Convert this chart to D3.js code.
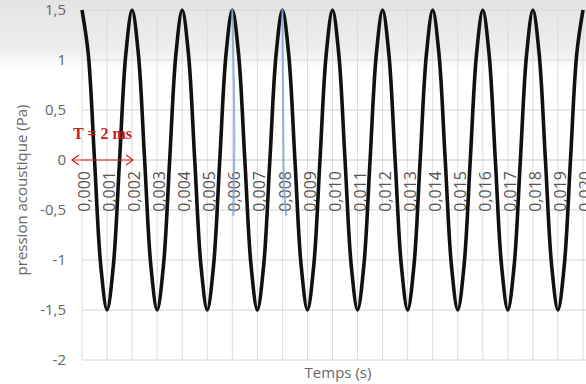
<!DOCTYPE html>
<html><head><meta charset="utf-8">
<script src="https://cdn.jsdelivr.net/npm/d3@7/dist/d3.min.js"></script>
<style>body{margin:0;background:#fff;}svg{display:block;}</style>
</head><body>
<svg id="c" width="586" height="384"></svg>
<script>
const times = d3.range(81).map(i => +(i * 0.00025).toFixed(5));
const pressure = [
 1.5, 1.06, 0, -1.06, -1.5, -1.06, 0, 1.06,
 1.5, 1.06, 0, -1.06, -1.5, -1.06, 0, 1.06,
 1.5, 1.06, 0, -1.06, -1.5, -1.06, 0, 1.06,
 1.5, 1.06, 0, -1.06, -1.5, -1.06, 0, 1.06,
 1.5, 1.06, 0, -1.06, -1.5, -1.06, 0, 1.06,
 1.5, 1.06, 0, -1.06, -1.5, -1.06, 0, 1.06,
 1.5, 1.06, 0, -1.06, -1.5, -1.06, 0, 1.06,
 1.5, 1.06, 0, -1.06, -1.5, -1.06, 0, 1.06,
 1.5, 1.06, 0, -1.06, -1.5, -1.06, 0, 1.06,
 1.5, 1.06, 0, -1.06, -1.5, -1.06, 0, 1.06,
 1.5
];
const xTicks = [0,0.001,0.002,0.003,0.004,0.005,0.006,0.007,0.008,0.009,0.010,
                0.011,0.012,0.013,0.014,0.015,0.016,0.017,0.018,0.019,0.020];
const yTicks = [-2,-1.5,-1,-0.5,0,0.5,1,1.5];
// hand-drawn blue marks
const blue1T = [0.006, 0.00604, 0.00608, 0.00608, 0.00604];
const blue1P = [1.5, 1.0, 0.6, -0.07, -0.55];
const blue2T = [0.008, 0.00803, 0.00804, 0.00806, 0.00815];
const blue2P = [1.5, 0.6, 0.0, -0.3, -0.55];
const annotation = "T = 2 ms";
const arrowT = [-0.0004, 0.00204];

const svg = d3.select("#c");
const x = d3.scaleLinear().domain([0, 0.020]).range([82, 583]);
const y = d3.scaleLinear().domain([-2, 1.5]).range([360, 10]);
const fmt = v => d3.format(".3f")(v).replace(".", ",");
const fmtY = v => String(v).replace(".", ",");

// scan-like grey top band
const defs = svg.append("defs");
const g1 = defs.append("linearGradient").attr("id","topg").attr("x1",0).attr("x2",0).attr("y1",0).attr("y2",1);
g1.append("stop").attr("offset","0%").attr("stop-color","#e4e4e4");
g1.append("stop").attr("offset","75%").attr("stop-color","#eeeeee");
g1.append("stop").attr("offset","100%").attr("stop-color","#ffffff");
svg.append("rect").attr("x",0).attr("y",0).attr("width",586).attr("height",68).attr("fill","url(#topg)");

// gridlines
svg.append("g").selectAll("line.v").data(xTicks).join("line")
  .attr("x1", d => x(d)).attr("x2", d => x(d)).attr("y1", y(1.5)).attr("y2", y(-2))
  .attr("stroke", "#dcdcdc").attr("stroke-width", 1);
svg.append("g").selectAll("line.h").data(yTicks).join("line")
  .attr("x1", x(0)).attr("x2", 586).attr("y1", d => y(d)).attr("y2", d => y(d))
  .attr("stroke", d => d === 0 ? "#c8c8c8" : "#d6d6d6").attr("stroke-width", 1);

// y axis labels
const yAxis = d3.axisLeft(y).tickValues(yTicks).tickFormat(fmtY).tickSize(0).tickPadding(16);
const ya = svg.append("g").attr("transform", `translate(${x(0)},0)`).call(yAxis);
ya.select(".domain").remove();
ya.selectAll("text").attr("font-family","'Open Sans', sans-serif").attr("font-size",15).attr("fill","#666");

// x axis labels at y=0, rotated
const xAxis = d3.axisBottom(x).tickValues(xTicks).tickFormat(fmt).tickSize(0).tickPadding(0);
const xa = svg.append("g").attr("transform", `translate(0,${y(0)})`).call(xAxis);
xa.select(".domain").remove();
xa.selectAll("text")
  .attr("font-family","'Open Sans', sans-serif").attr("font-size",16).attr("fill","#555")
  .attr("text-anchor","end").attr("dy","0.35em").attr("y",0)
  .attr("transform","translate(2,11) rotate(-90)");

// signal
const line = d3.line().x(i => x(times[i])).y(i => y(pressure[i])).curve(d3.curveCatmullRom.alpha(0.5));
svg.append("path").attr("d", line(d3.range(times.length)))
  .attr("fill","none").attr("stroke","#111").attr("stroke-width",3.6).attr("stroke-linejoin","round");

// blue hand marks
const bl = (T, P) => d3.line().x(i => x(T[i])).y(i => y(P[i])).curve(d3.curveBasis)(d3.range(T.length));
[[blue1T, blue1P],[blue2T, blue2P]].forEach(([T,P]) => {
  svg.append("path").attr("d", bl(T,P)).attr("fill","none")
    .attr("stroke","#7fa6de").attr("stroke-width",2).attr("stroke-opacity",0.85).attr("stroke-linecap","round");
});

// red double arrow
const ay = y(0);
const ax1 = x(arrowT[0]), ax2 = x(arrowT[1]);
const red = "#d42020";
svg.append("line").attr("x1",ax1).attr("x2",ax2).attr("y1",ay).attr("y2",ay).attr("stroke",red).attr("stroke-width",1.2);
svg.append("path").attr("d",`M${ax1+7},${ay-5}L${ax1},${ay}L${ax1+7},${ay+5}`).attr("fill","none").attr("stroke",red).attr("stroke-width",1.2);
svg.append("path").attr("d",`M${ax2-7},${ay-5}L${ax2},${ay}L${ax2-7},${ay+5}`).attr("fill","none").attr("stroke",red).attr("stroke-width",1.2);
svg.append("text").attr("x",(ax1+ax2)/2).attr("y",139).attr("text-anchor","middle")
  .attr("font-family","'Liberation Serif', 'Times New Roman', serif").attr("font-weight","bold")
  .attr("font-size",16).attr("fill","#c81e1e").text(annotation);

// axis titles
svg.append("text").attr("transform","translate(27,190) rotate(-90)").attr("text-anchor","middle")
  .attr("font-family","'Open Sans', sans-serif").attr("font-size",15).attr("fill","#666").text("pression acoustique (Pa)");
svg.append("text").attr("x",338).attr("y",378).attr("text-anchor","middle")
  .attr("font-family","'Open Sans', sans-serif").attr("font-size",15).attr("fill","#666").text("Temps (s)");
</script>
</body></html>
